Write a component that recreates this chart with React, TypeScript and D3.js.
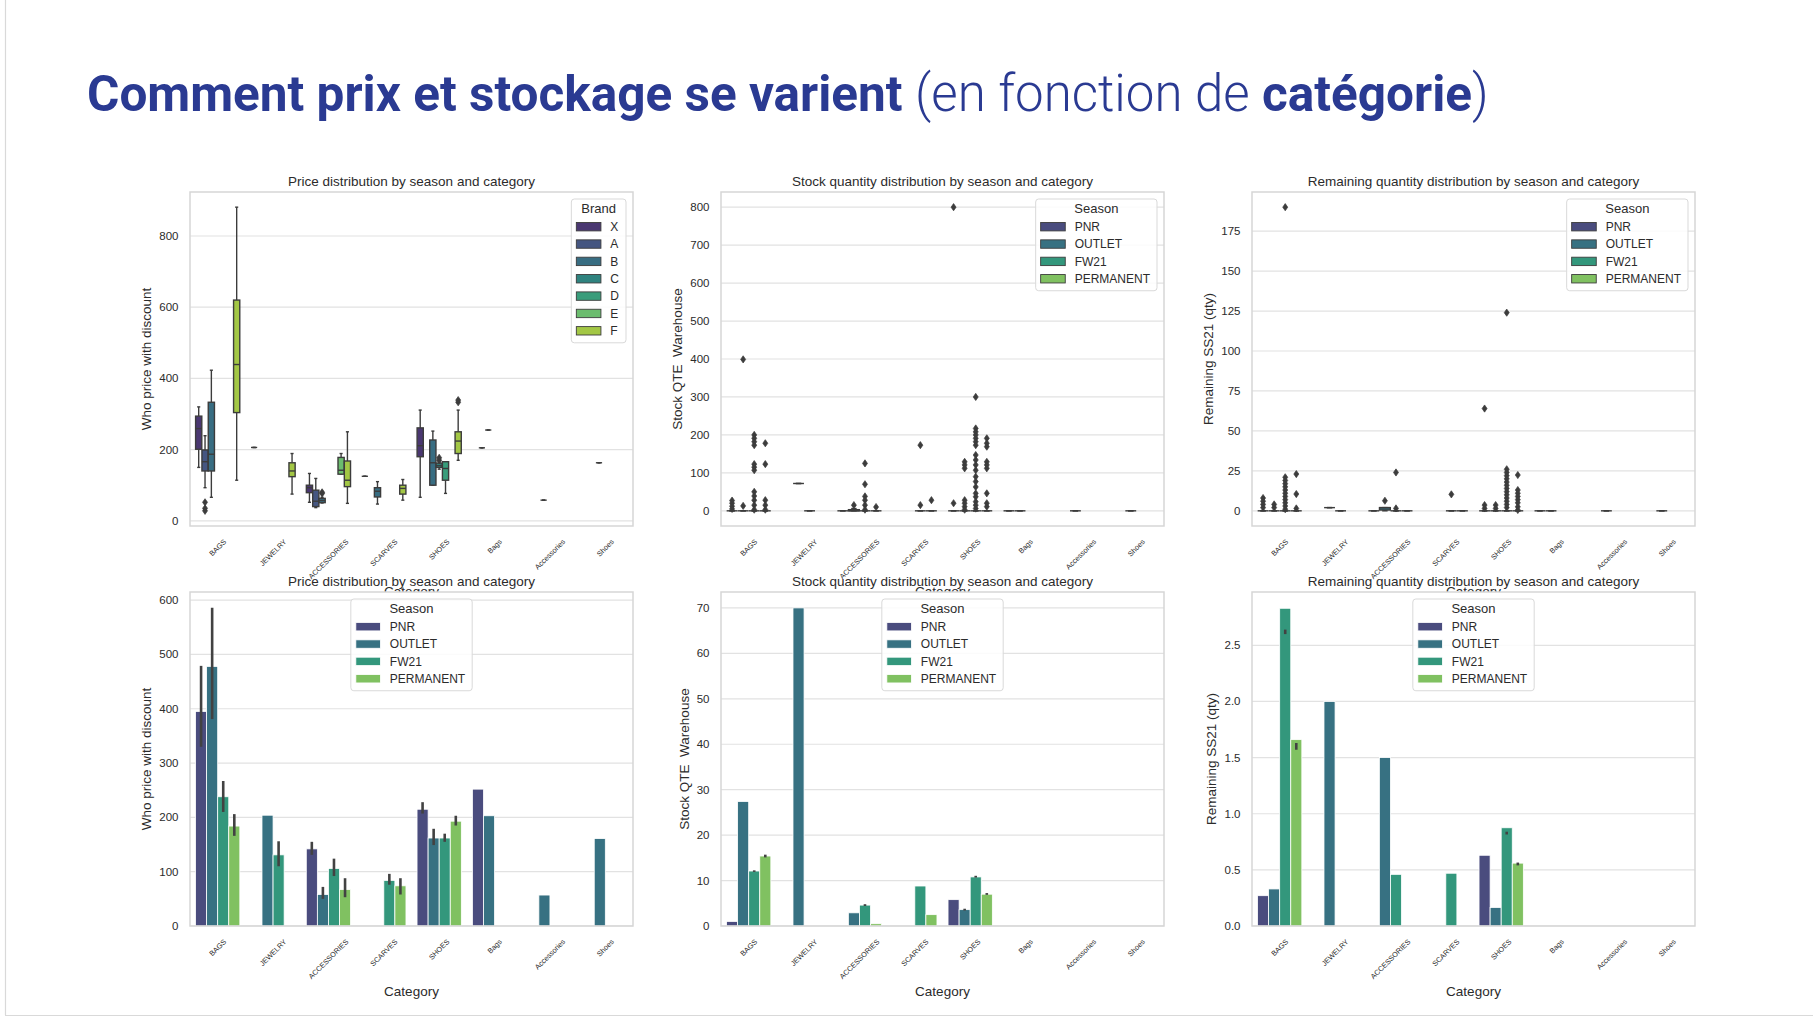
import { useEffect, useRef } from 'react';
import * as d3 from 'd3';

// categories on the x axis of every panel
const categories = ['BAGS', 'JEWELRY', 'ACCESSORIES', 'SCARVES', 'SHOES', 'Bags', 'Accessories', 'Shoes'];
const brands = ['X', 'A', 'B', 'C', 'D', 'E', 'F'];
const seasons = ['PNR', 'OUTLET', 'FW21', 'PERMANENT'];

// [category, hue, whiskerLow, q1, median, q3, whiskerHigh, fliers]
type Box = [string, string, number, number, number, number, number, number[]];
// [category, hue, mean, ciLow?, ciHigh?]
type Bar = [string, string, number, number?, number?];

const priceBoxes: Box[] = [
  ['BAGS', 'X', 150, 201, 259, 294, 320, []],
  ['BAGS', 'A', 93, 140, 166, 199, 239, [52, 35, 28]],
  ['BAGS', 'B', 66, 140, 187, 333, 423, []],
  ['BAGS', 'F', 114, 304, 439, 620, 881, []],
  ['JEWELRY', 'X', 206, 206, 206, 206, 206, []],
  ['JEWELRY', 'F', 75, 124, 140, 163, 189, []],
  ['ACCESSORIES', 'X', 52, 79, 93, 100, 133, []],
  ['ACCESSORIES', 'A', 37, 40, 55, 86, 119, []],
  ['ACCESSORIES', 'B', 50, 51, 57, 63, 66, [77, 80]],
  ['ACCESSORIES', 'E', 131, 131, 142, 178, 189, []],
  ['ACCESSORIES', 'F', 49, 96, 114, 168, 250, []],
  ['SCARVES', 'X', 125, 125, 125, 125, 125, []],
  ['SCARVES', 'B', 47, 67, 83, 93, 110, []],
  ['SCARVES', 'F', 58, 75, 91, 100, 116, []],
  ['SHOES', 'X', 66, 180, 211, 261, 311, []],
  ['SHOES', 'B', 100, 100, 163, 227, 252, []],
  ['SHOES', 'C', 145, 150, 155, 162, 165, [170, 177]],
  ['SHOES', 'D', 77, 114, 147, 166, 166, []],
  ['SHOES', 'F', 170, 189, 224, 250, 311, [333, 339]],
  ['Bags', 'A', 205, 205, 205, 205, 205, []],
  ['Bags', 'B', 255, 255, 255, 255, 255, []],
  ['Accessories', 'B', 58, 58, 58, 58, 58, []],
  ['Shoes', 'B', 163, 163, 163, 163, 163, []],
];

const stockBoxes: Box[] = [
  ['BAGS', 'PNR', 0, 0, 0, 0, 0, [27, 20, 12, 5]],
  ['BAGS', 'OUTLET', 0, 0, 0, 0, 0, [399, 13]],
  ['BAGS', 'FW21', 0, 0, 0, 0, 0, [200, 191, 182, 173, 123, 115, 107, 50, 39, 28, 15, 3]],
  ['BAGS', 'PERMANENT', 0, 0, 0, 0, 0, [178, 123, 28, 15, 3]],
  ['JEWELRY', 'OUTLET', 72, 72, 72, 72, 72, []],
  ['JEWELRY', 'FW21', 0, 0, 0, 0, 0, []],
  ['ACCESSORIES', 'PNR', 0, 0, 0, 0, 0, []],
  ['ACCESSORIES', 'OUTLET', 0, 0, 0, 3, 6, [15]],
  ['ACCESSORIES', 'FW21', 0, 0, 0, 0, 0, [125, 70, 38, 28, 15, 3]],
  ['ACCESSORIES', 'PERMANENT', 0, 0, 0, 0, 0, [10]],
  ['SCARVES', 'FW21', 0, 0, 0, 0, 0, [173, 15]],
  ['SCARVES', 'PERMANENT', 0, 0, 0, 0, 0, [28]],
  ['SHOES', 'PNR', 0, 0, 0, 0, 0, [800, 20]],
  ['SHOES', 'OUTLET', 0, 0, 0, 0, 0, [129, 121, 112, 28, 20, 11, 3]],
  ['SHOES', 'FW21', 0, 0, 0, 0, 0, [300, 217, 208, 200, 191, 182, 173, 147, 134, 121, 107, 90, 77, 63, 46, 37, 24, 15, 6]],
  ['SHOES', 'PERMANENT', 0, 0, 0, 0, 0, [191, 178, 169, 129, 121, 112, 46, 20, 11]],
  ['Bags', 'PNR', 0, 0, 0, 0, 0, []],
  ['Bags', 'OUTLET', 0, 0, 0, 0, 0, []],
  ['Accessories', 'OUTLET', 0, 0, 0, 0, 0, []],
  ['Shoes', 'OUTLET', 0, 0, 0, 0, 0, []],
];

const remainBoxes: Box[] = [
  ['BAGS', 'PNR', 0, 0, 0, 0, 0, [8, 6, 4, 2]],
  ['BAGS', 'OUTLET', 0, 0, 0, 0, 0, [4, 2]],
  ['BAGS', 'FW21', 0, 0, 0, 0, 0, [190, 21, 19, 17, 15, 13, 11, 9, 7, 5, 3, 1]],
  ['BAGS', 'PERMANENT', 0, 0, 0, 0, 0, [23, 10.5, 1.5]],
  ['JEWELRY', 'OUTLET', 2, 2, 2, 2, 2, []],
  ['JEWELRY', 'FW21', 0, 0, 0, 0, 0, []],
  ['ACCESSORIES', 'PNR', 0, 0, 0, 0, 0, []],
  ['ACCESSORIES', 'OUTLET', 0, 0.5, 2, 2, 2, [6.3]],
  ['ACCESSORIES', 'FW21', 0, 0, 0, 0, 0, [24, 1.5]],
  ['ACCESSORIES', 'PERMANENT', 0, 0, 0, 0, 0, []],
  ['SCARVES', 'FW21', 0, 0, 0, 0, 0, [10.3]],
  ['SCARVES', 'PERMANENT', 0, 0, 0, 0, 0, []],
  ['SHOES', 'PNR', 0, 0, 0, 0, 0, [64, 3.6, 1.5]],
  ['SHOES', 'OUTLET', 0, 0, 0, 0, 0, [3.6, 1.5]],
  ['SHOES', 'FW21', 0, 0, 0, 0, 0, [124, 26, 24, 22, 20, 18, 16, 14, 12, 10, 8, 6, 4, 2]],
  ['SHOES', 'PERMANENT', 0, 0, 0, 0, 0, [22.4, 13, 11, 9, 7, 5, 2.5, 0.5]],
  ['Bags', 'PNR', 0, 0, 0, 0, 0, []],
  ['Bags', 'OUTLET', 0, 0, 0, 0, 0, []],
  ['Accessories', 'OUTLET', 0, 0, 0, 0, 0, []],
  ['Shoes', 'OUTLET', 0, 0, 0, 0, 0, []],
];

const priceBars: Bar[] = [
  ['BAGS', 'PNR', 395, 330, 479],
  ['BAGS', 'OUTLET', 478, 381, 586],
  ['BAGS', 'FW21', 238, 210, 267],
  ['BAGS', 'PERMANENT', 184, 166, 206],
  ['JEWELRY', 'OUTLET', 204],
  ['JEWELRY', 'FW21', 131, 110, 156],
  ['ACCESSORIES', 'PNR', 142, 131, 155],
  ['ACCESSORIES', 'OUTLET', 58, 50, 72],
  ['ACCESSORIES', 'FW21', 106, 92, 124],
  ['ACCESSORIES', 'PERMANENT', 67, 53, 88],
  ['SCARVES', 'FW21', 84, 76, 96],
  ['SCARVES', 'PERMANENT', 74, 58, 88],
  ['SHOES', 'PNR', 215, 207, 228],
  ['SHOES', 'OUTLET', 162, 149, 179],
  ['SHOES', 'FW21', 162, 155, 170],
  ['SHOES', 'PERMANENT', 193, 185, 203],
  ['Bags', 'PNR', 252],
  ['Bags', 'OUTLET', 203],
  ['Accessories', 'OUTLET', 57],
  ['Shoes', 'OUTLET', 161],
];

const stockBars: Bar[] = [
  ['BAGS', 'PNR', 1.0],
  ['BAGS', 'OUTLET', 27.4],
  ['BAGS', 'FW21', 12.1, 11.9, 12.25],
  ['BAGS', 'PERMANENT', 15.4, 15.1, 15.7],
  ['JEWELRY', 'OUTLET', 70],
  ['JEWELRY', 'FW21', 0],
  ['ACCESSORIES', 'PNR', 0],
  ['ACCESSORIES', 'OUTLET', 2.9],
  ['ACCESSORIES', 'FW21', 4.6, 4.4, 4.8],
  ['ACCESSORIES', 'PERMANENT', 0.5],
  ['SCARVES', 'FW21', 8.8],
  ['SCARVES', 'PERMANENT', 2.5],
  ['SHOES', 'PNR', 5.8],
  ['SHOES', 'OUTLET', 3.6, 3.4, 3.8],
  ['SHOES', 'FW21', 10.8, 10.65, 11.05],
  ['SHOES', 'PERMANENT', 7.0, 6.85, 7.25],
  ['Bags', 'PNR', 0],
  ['Bags', 'OUTLET', 0],
  ['Accessories', 'OUTLET', 0],
  ['Shoes', 'OUTLET', 0],
];

const remainBars: Bar[] = [
  ['BAGS', 'PNR', 0.27],
  ['BAGS', 'OUTLET', 0.33],
  ['BAGS', 'FW21', 2.83, 2.6, 2.64],
  ['BAGS', 'PERMANENT', 1.66, 1.57, 1.63],
  ['JEWELRY', 'OUTLET', 2.0],
  ['JEWELRY', 'FW21', 0],
  ['ACCESSORIES', 'PNR', 0],
  ['ACCESSORIES', 'OUTLET', 1.5],
  ['ACCESSORIES', 'FW21', 0.46],
  ['ACCESSORIES', 'PERMANENT', 0],
  ['SCARVES', 'FW21', 0.47],
  ['SCARVES', 'PERMANENT', 0],
  ['SHOES', 'PNR', 0.63],
  ['SHOES', 'OUTLET', 0.165],
  ['SHOES', 'FW21', 0.875, 0.815, 0.84],
  ['SHOES', 'PERMANENT', 0.56, 0.54, 0.565],
  ['Bags', 'PNR', 0],
  ['Bags', 'OUTLET', 0],
  ['Accessories', 'OUTLET', 0],
  ['Shoes', 'OUTLET', 0],
];

const priceBoxTicks = [0, 200, 400, 600, 800];
const stockBoxTicks = [0, 100, 200, 300, 400, 500, 600, 700, 800];
const remainBoxTicks = [0, 25, 50, 75, 100, 125, 150, 175];
const priceBarTicks = [0, 100, 200, 300, 400, 500, 600];
const stockBarTicks = [0, 10, 20, 30, 40, 50, 60, 70];
const remainBarTicks = [0, 0.5, 1.0, 1.5, 2.0, 2.5];

const SANS = '"Liberation Sans", Arial, sans-serif';
const TEXT = '#2b2b2b';
const LINE_GRAY = '#3c3c3c';
const PW = 443;
const PH = 334;
const colLefts = [190, 721, 1252];
const rowTops = [192, 592];

// seaborn draws patches with its palette desaturated to 75 %
function desat(c: string, p = 0.75) {
  const h = d3.hsl(c);
  h.s *= p;
  return h.formatHex();
}
function viridis(n: number) {
  return d3.range(n).map((i) => desat(d3.interpolateViridis((i + 1) / (n + 1))));
}

interface Panel {
  col: number;
  row: number;
  title: string;
  ylabel: string;
  domain: [number, number];
  ticks: number[];
  fmt: (v: number) => string;
  hues: string[];
  legendTitle: string;
  legendAt: 'right' | 'center';
  boxes?: Box[];
  bars?: Bar[];
}

function drawPanel(svg: d3.Selection<SVGSVGElement, unknown, null, undefined>, p: Panel) {
  const g = svg.append('g').attr('transform', `translate(${colLefts[p.col]},${rowTops[p.row]})`);
  const colors = viridis(p.hues.length);

  g.append('rect').attr('width', PW).attr('height', PH).attr('fill', '#fff');

  const x = d3.scaleBand<string>().domain(categories).range([0, PW]);
  const bw = x.bandwidth();
  const hx = d3.scaleBand<string>().domain(p.hues).range([-bw * 0.4, bw * 0.4]);
  const slot = hx.bandwidth();
  const y = d3.scaleLinear().domain(p.domain).range([PH, 0]);

  // horizontal grid
  p.ticks.forEach((t) => {
    g.append('line')
      .attr('x1', 0).attr('x2', PW)
      .attr('y1', y(t)).attr('y2', y(t))
      .attr('stroke', '#e2e2e2').attr('stroke-width', 1.2);
  });

  // subplot title
  g.append('text')
    .attr('x', PW / 2).attr('y', -6)
    .attr('text-anchor', 'middle')
    .attr('font-family', SANS).attr('font-size', 13.5).attr('fill', TEXT)
    .text(p.title);

  if (p.bars) {
    p.bars.forEach(([cat, hue, v, lo, hi]) => {
      const x0 = x(cat)! + bw / 2 + hx(hue)!;
      const col = colors[p.hues.indexOf(hue)];
      if (v > 0) {
        g.append('rect')
          .attr('x', x0).attr('y', y(v))
          .attr('width', slot).attr('height', y(0) - y(v))
          .attr('fill', col).attr('stroke', '#fff').attr('stroke-width', 0.8);
      }
      if (lo != null && hi != null) {
        g.append('line')
          .attr('x1', x0 + slot / 2).attr('x2', x0 + slot / 2)
          .attr('y1', y(lo)).attr('y2', y(hi))
          .attr('stroke', '#424242').attr('stroke-width', 2.6);
      }
    });
  }

  if (p.boxes) {
    const boxW = slot * 0.98;
    const diamond = 'M0,-3.6L2.5,0L0,3.6L-2.5,0Z';
    p.boxes.forEach(([cat, hue, lo, q1, med, q3, hi, fliers]) => {
      const cx = x(cat)! + bw / 2 + hx(hue)! + slot / 2;
      const col = colors[p.hues.indexOf(hue)];
      const seg = (x1: number, y1: number, x2: number, y2: number) =>
        g.append('line')
          .attr('x1', x1).attr('y1', y1).attr('x2', x2).attr('y2', y2)
          .attr('stroke', LINE_GRAY).attr('stroke-width', 1.4);
      seg(cx, y(q3), cx, y(hi));
      seg(cx, y(q1), cx, y(lo));
      seg(cx - boxW / 4, y(hi), cx + boxW / 4, y(hi));
      seg(cx - boxW / 4, y(lo), cx + boxW / 4, y(lo));
      g.append('rect')
        .attr('x', cx - boxW / 2).attr('y', y(q3))
        .attr('width', boxW).attr('height', Math.max(0, y(q1) - y(q3)))
        .attr('fill', col).attr('stroke', LINE_GRAY).attr('stroke-width', 1.4);
      seg(cx - boxW / 2, y(med), cx + boxW / 2, y(med));
      fliers.forEach((v) => {
        g.append('path')
          .attr('d', diamond)
          .attr('transform', `translate(${cx},${y(v)})`)
          .attr('fill', LINE_GRAY).attr('stroke', LINE_GRAY).attr('stroke-width', 0.7);
      });
    });
  }

  // frame
  g.append('rect')
    .attr('width', PW).attr('height', PH)
    .attr('fill', 'none').attr('stroke', '#d6d6d6').attr('stroke-width', 1.5);

  // y tick labels
  let maxW = 0;
  p.ticks.forEach((t) => {
    const tx = g.append('text')
      .attr('x', -11.5).attr('y', y(t)).attr('dy', '0.35em')
      .attr('text-anchor', 'end')
      .attr('font-family', SANS).attr('font-size', 11.5).attr('fill', TEXT)
      .text(p.fmt(t));
    maxW = Math.max(maxW, (tx.node() as SVGTextElement).getComputedTextLength());
  });

  // y label
  g.append('text')
    .attr('transform', `translate(${-11.5 - maxW - 12.6},${PH / 2}) rotate(-90)`)
    .attr('text-anchor', 'middle').attr('dominant-baseline', 'central')
    .attr('font-family', SANS).attr('font-size', 13.5).attr('fill', TEXT)
    .style('white-space', 'pre')
    .text(p.ylabel);

  // x tick labels, rotated 45 degrees and centred under the tick
  categories.forEach((c) => {
    const t = g.append('text')
      .attr('font-family', SANS).attr('font-size', 7.3).attr('fill', TEXT)
      .attr('text-anchor', 'middle').attr('dominant-baseline', 'central')
      .text(c);
    const w = (t.node() as SVGTextElement).getComputedTextLength();
    const cy = PH + 12 + ((w + 7) * Math.SQRT1_2) / 2;
    t.attr('transform', `translate(${x(c)! + bw / 2},${cy}) rotate(-45)`);
  });

  // x label
  g.append('text')
    .attr('x', PW / 2).attr('y', PH + 65).attr('dy', '0.35em')
    .attr('text-anchor', 'middle')
    .attr('font-family', SANS).attr('font-size', 13.5).attr('fill', TEXT)
    .text('Category');

  // legend
  const lg = g.append('g');
  let lw = 0;
  const labels = p.hues.map((h, i) => {
    const t = lg.append('text')
      .attr('x', 39).attr('y', 27.7 + i * 17.35).attr('dy', '0.35em')
      .attr('font-family', SANS).attr('font-size', 12).attr('fill', TEXT)
      .text(h);
    lw = Math.max(lw, (t.node() as SVGTextElement).getComputedTextLength());
    return t;
  });
  const boxWidth = 39 + lw + 7;
  const boxHeight = 27.7 + (p.hues.length - 1) * 17.35 + 12;
  const lx = p.legendAt === 'right' ? PW - 7 - boxWidth : (PW - boxWidth) / 2;
  lg.attr('transform', `translate(${lx},7)`);
  lg.insert('rect', ':first-child')
    .attr('width', boxWidth).attr('height', boxHeight).attr('rx', 3)
    .attr('fill', '#fff').attr('fill-opacity', 0.85)
    .attr('stroke', '#d9d9d9').attr('stroke-width', 1);
  lg.append('text')
    .attr('x', boxWidth / 2).attr('y', 9).attr('dy', '0.35em')
    .attr('text-anchor', 'middle')
    .attr('font-family', SANS).attr('font-size', 13).attr('fill', TEXT)
    .text(p.legendTitle);
  p.hues.forEach((h, i) => {
    lg.append('rect')
      .attr('x', 5).attr('y', 27.7 + i * 17.35 - 4.2)
      .attr('width', 24.6).attr('height', 8.4)
      .attr('fill', colors[i])
      .attr('stroke', p.boxes ? LINE_GRAY : '#fff').attr('stroke-width', p.boxes ? 0.9 : 0.8);
  });
  labels.forEach((t) => t.raise());
}

export default function App() {
  const svgRef = useRef<SVGSVGElement>(null);

  useEffect(() => {
    if (!svgRef.current) return;
    const svg = d3.select(svgRef.current);
    svg.selectAll('*').remove();

    svg.append('rect').attr('width', 1813).attr('height', 1021).attr('fill', '#fff');
    // slide border
    svg.append('line').attr('x1', 5.5).attr('x2', 5.5).attr('y1', 0).attr('y2', 1015)
      .attr('stroke', '#d9d9d9').attr('stroke-width', 1.2);
    svg.append('line').attr('x1', 5).attr('x2', 1813).attr('y1', 1015.5).attr('y2', 1015.5)
      .attr('stroke', '#d9d9d9').attr('stroke-width', 1.2);

    // slide title
    const tt = svg.append('text')
      .attr('x', 87).attr('y', 111)
      .attr('font-family', 'Roboto, sans-serif').attr('font-size', 49.5).attr('fill', '#2a3a92')
      .style('white-space', 'pre');
    tt.append('tspan').attr('font-weight', 700).text('Comment prix et stockage se varient');
    tt.append('tspan').attr('font-weight', 300).attr('font-size', 51).text(' (en fonction de ');
    tt.append('tspan').attr('font-weight', 700).text('catégorie');
    tt.append('tspan').attr('font-weight', 300).attr('font-size', 51).text(')');

    const f0 = d3.format('d');
    const f1 = d3.format('.1f');
    const panels: Panel[] = [
      { col: 0, row: 0, title: 'Price distribution by season and category', ylabel: 'Who price with discount',
        domain: [-14.6, 923.6], ticks: priceBoxTicks, fmt: f0, hues: brands, legendTitle: 'Brand', legendAt: 'right', boxes: priceBoxes },
      { col: 1, row: 0, title: 'Stock quantity distribution by season and category', ylabel: 'Stock QTE  Warehouse',
        domain: [-40, 840], ticks: stockBoxTicks, fmt: f0, hues: seasons, legendTitle: 'Season', legendAt: 'right', boxes: stockBoxes },
      { col: 2, row: 0, title: 'Remaining quantity distribution by season and category', ylabel: 'Remaining SS21 (qty)',
        domain: [-9.5, 199.5], ticks: remainBoxTicks, fmt: f0, hues: seasons, legendTitle: 'Season', legendAt: 'right', boxes: remainBoxes },
      { col: 0, row: 1, title: 'Price distribution by season and category', ylabel: 'Who price with discount',
        domain: [0, 615], ticks: priceBarTicks, fmt: f0, hues: seasons, legendTitle: 'Season', legendAt: 'center', bars: priceBars },
      { col: 1, row: 1, title: 'Stock quantity distribution by season and category', ylabel: 'Stock QTE  Warehouse',
        domain: [0, 73.5], ticks: stockBarTicks, fmt: f0, hues: seasons, legendTitle: 'Season', legendAt: 'center', bars: stockBars },
      { col: 2, row: 1, title: 'Remaining quantity distribution by season and category', ylabel: 'Remaining SS21 (qty)',
        domain: [0, 2.975], ticks: remainBarTicks, fmt: f1, hues: seasons, legendTitle: 'Season', legendAt: 'center', bars: remainBars },
    ];
    panels.forEach((p) => drawPanel(svg as any, p));
  }, []);

  return (
    <svg
      ref={svgRef}
      width={1813}
      height={1021}
      style={{ position: 'absolute', left: 0, top: 0, display: 'block' }}
    />
  );
}
